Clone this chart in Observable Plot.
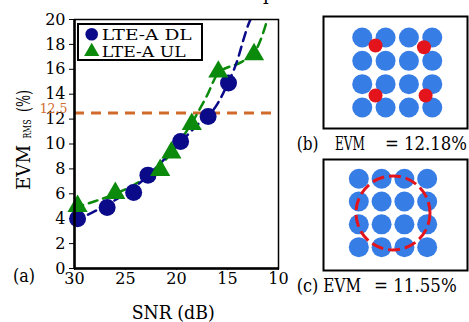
<!DOCTYPE html>
<html><head><meta charset="utf-8">
<script src="https://cdn.jsdelivr.net/npm/d3@7"></script>
<script src="https://cdn.jsdelivr.net/npm/@observablehq/plot@0.6"></script>
<style>
html,body{margin:0;padding:0;background:#fff;}
#wrap{position:relative;width:469px;height:322px;overflow:hidden;font-family:"DejaVu Serif",serif;background:#fff;}
#wrap svg{position:absolute;overflow:visible;}
</style></head><body><div id="wrap"></div>
<script>
// ---- data ----
const seriesNames = ["LTE-A DL", "LTE-A UL"];
const dlSNR = [29.7, 26.8, 24.2, 22.8, 19.6, 16.9, 14.9];
const dlEVM = [4.0, 4.9, 6.1, 7.5, 10.2, 12.2, 14.9];
const ulSNR = [29.7, 26.0, 21.6, 20.5, 18.5, 15.9, 12.4];
const ulEVM = [5.0, 6.05, 7.9, 9.3, 11.6, 15.8, 17.2];
const dlFitSNR = [30, 28, 26, 24, 22, 20, 18, 16, 15, 14, 13.5, 13, 12.75];
const dlFitEVM = [3.8, 4.6, 5.5, 6.6, 8.1, 9.8, 11.5, 13.2, 14.8, 16.8, 18.2, 19.5, 20];
const ulFitSNR = [30, 28, 26, 24, 22, 20.5, 18.5, 17, 15.9, 13.6, 12.4, 11.6, 11.1];
const ulFitEVM = [4.9, 5.4, 6.0, 6.8, 7.9, 9.3, 11.7, 13.9, 15.7, 16.6, 17.3, 18.7, 20];
const xTicks = [30, 25, 20, 15, 10];
const yTicks = [0, 2, 4, 6, 8, 10, 12, 14, 16, 18, 20];
const threshold = 12.5;
const constLevels = [-3, -1, 1, 3];
const redBI = [-1.86, 2.29, -1.86, 2.43];
const redBQ = [2.31, 2.17, -1.97, -1.97];
const panelTags = ["(a)", "(b)", "(c)"];
const panelEVM = ["12.18%", "11.55%"];

// ---- styles ----
const NAVY = "#0b0b8a", GREEN = "#0b8a0b", ORANGE = "#d06a2a", BLOB = "#377de6", RED = "#e4141c";
const FONT = "DejaVu Serif";
const wrap = d3.select("#wrap");

const dl = dlSNR.map((x, i) => ({snr: x, evm: dlEVM[i]}));
const ul = ulSNR.map((x, i) => ({snr: x, evm: ulEVM[i]}));
const dlFit = dlFitSNR.map((x, i) => ({snr: x, evm: dlFitEVM[i]}));
const ulFit = ulFitSNR.map((x, i) => ({snr: x, evm: ulFitEVM[i]}));

const main = Plot.plot({
  width: 290, height: 322,
  marginLeft: 74, marginRight: 12, marginTop: 19, marginBottom: 54,
  style: {fontFamily: FONT, fontSize: "16px", background: "transparent", color: "black"},
  x: {domain: [30, 10], ticks: xTicks, tickSize: 2, tickPadding: 2, label: null},
  y: {domain: [0, 20], ticks: yTicks, tickSize: 5, tickPadding: 4, label: null},
  marks: [
    Plot.ruleY([threshold], {stroke: ORANGE, strokeWidth: 3, strokeDasharray: "10 7"}),
    Plot.line(ulFit, {x: "snr", y: "evm", stroke: GREEN, strokeWidth: 2.5, strokeDasharray: "9 6", curve: "monotone-x", clip: true}),
    Plot.line(dlFit, {x: "snr", y: "evm", stroke: NAVY, strokeWidth: 2.5, strokeDasharray: "9 6", curve: "monotone-x", clip: true}),
    Plot.dot(dl, {x: "snr", y: "evm", r: 8.5, fill: NAVY, stroke: "none"}),
    Plot.dot(ul, {x: "snr", y: "evm", r: 7.5, symbol: "triangle", fill: GREEN, stroke: "none"}),
    Plot.frame({stroke: "black", strokeWidth: 1.5}),
    Plot.ruleX([30], {stroke: "black", strokeWidth: 2.5}),
    Plot.ruleY([0], {stroke: "black", strokeWidth: 2.5}),
    Plot.text([threshold], {y: d => d, frameAnchor: "left", dx: -7, textAnchor: "end", lineAnchor: "bottom",
      fill: ORANGE, fontSize: 12.5, text: d => String(d)})
  ]
});
main.style.left = "0px"; main.style.top = "0px";
wrap.node().appendChild(main);
const ms = d3.select(main);

// y label EVM_RMS (%)
const ylab = (t, y, size, len, x) => ms.append("text").attr("transform", `translate(${x},${y}) rotate(-90)`)
  .attr("text-anchor", "start").attr("font-size", size).attr("font-family", FONT).attr("fill", "black")
  .attr("textLength", len).attr("lengthAdjust", "spacingAndGlyphs").text(t);
ylab("EVM", 190, 18, 45, 30);
ylab("RMS", 138.5, 11, 19, 30.5);
ylab("(%)", 112, 18, 22, 30);

// generic text helper (left-anchored)
const txt = (sel, t, x, y, size, len) => sel.append("text").attr("x", x).attr("y", y)
  .attr("text-anchor", "start").attr("font-size", size).attr("font-family", FONT).attr("fill", "black")
  .attr("textLength", len).attr("lengthAdjust", "spacingAndGlyphs").text(t);
txt(ms, "SNR (dB)", 131.7, 319, 18, 83);
txt(ms, panelTags[0], 13, 282, 18, 22);
ms.append("text").attr("x", 263).attr("y", 0).attr("text-anchor", "start").attr("font-size", 18).attr("font-family", FONT).text("p");

// legend
const lg = ms.append("g");
lg.append("rect").attr("x", 78).attr("y", 24).attr("width", 124).attr("height", 36)
  .attr("fill", "white").attr("stroke", "black").attr("stroke-width", 2);
lg.append("circle").attr("cx", 91.7).attr("cy", 34.3).attr("r", 6.3).attr("fill", NAVY);
lg.append("path").attr("transform", "translate(91.7,51.5)").attr("d", d3.symbol(d3.symbolTriangle, 100)()).attr("fill", GREEN);
txt(lg, seriesNames[0], 101.7, 40, 15, 90);
txt(lg, seriesNames[1], 101.7, 57, 15, 84);

// ---- constellation panels ----
const grid = [];
for (const i of constLevels) for (const q of constLevels) grid.push({i, q});
const redB = redBI.map((v, k) => ({i: v, q: redBQ[k]}));

const pb = Plot.plot({
  width: 179, height: 155, marginLeft: 33, marginRight: 2, marginTop: 16, marginBottom: 27,
  style: {background: "transparent"},
  x: {domain: [-6.32, 6.02], axis: null}, y: {domain: [-4.8, 4.8], axis: null},
  marks: [
    Plot.dot(grid, {x: "i", y: "q", r: 10, fill: BLOB, stroke: "none"}),
    Plot.dot(redB, {x: "i", y: "q", r: 7, fill: RED, stroke: "none"}),
    Plot.frame({stroke: "black", strokeWidth: 2})
  ]
});
pb.style.left = "290px"; pb.style.top = "0px";
wrap.node().appendChild(pb);
const bs = d3.select(pb);
txt(bs, panelTags[1], 6.7, 150, 18, 21.7);
txt(bs, "EVM", 45, 150, 18, 30);
txt(bs, "= " + panelEVM[0], 95, 150, 18, 82);

const pc = Plot.plot({
  width: 179, height: 167, marginLeft: 33, marginRight: 2, marginTop: 4, marginBottom: 52,
  style: {background: "transparent"},
  x: {domain: [-6.1, 6.54], axis: null}, y: {domain: [-5.05, 4.69], axis: null},
  marks: [
    Plot.dot(grid, {x: "i", y: "q", r: 10, fill: BLOB, stroke: "none"}),
    Plot.dot([0], {x: () => 0, y: () => 0, r: 37, fill: "none", stroke: RED, strokeWidth: 3, strokeDasharray: "12 5"}),
    Plot.frame({stroke: "black", strokeWidth: 2})
  ]
});
pc.style.left = "290px"; pc.style.top = "155px";
wrap.node().appendChild(pc);
const cs = d3.select(pc);
txt(cs, panelTags[2], 6.7, 136.7, 18, 21.7);
txt(cs, "EVM", 33.3, 136.7, 18, 37.7);
txt(cs, "= " + panelEVM[1], 84, 136.7, 18, 82.7);
</script></body></html>
